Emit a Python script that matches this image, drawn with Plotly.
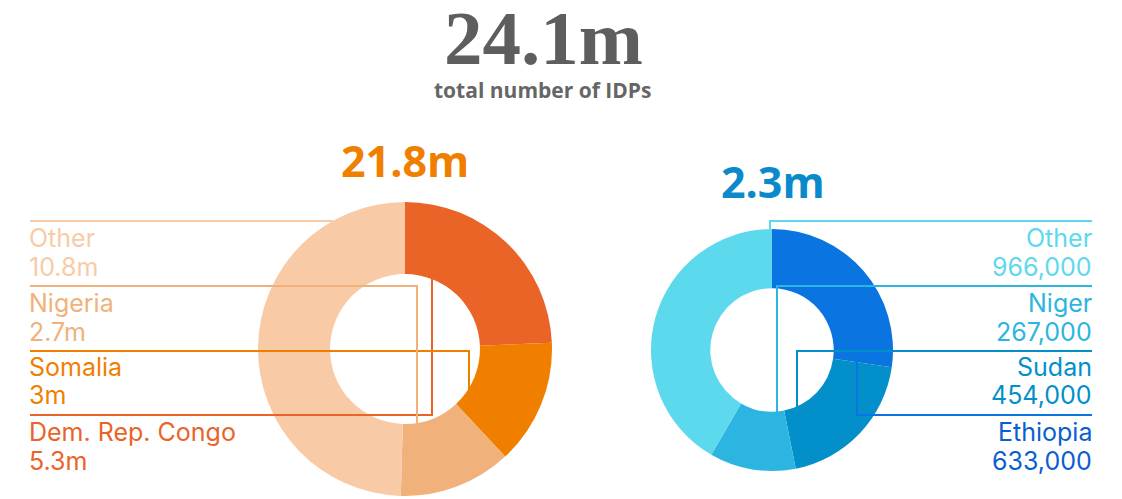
import plotly.graph_objects as go

# ---------------- data ----------------
left_labels = ["Dem. Rep. Congo", "Somalia", "Nigeria", "Other"]
left_values = [5.3, 3.0, 2.7, 10.8]            # millions
right_labels = ["Ethiopia", "Sudan", "Niger", "Other"]
right_values = [633000, 454000, 267000, 966000]

left_colors = ["#EA6428", "#F07F00", "#F0B27A", "#F8CBA6"]
left_text_colors = ["#EA6428", "#F07F00", "#F0B27A", "#F8CBA6"]
right_colors = ["#0A74E0", "#038FCA", "#2DB5E1", "#5DD9EE"]
right_text_colors = ["#0A5ECF", "#038FCA", "#2DB5E1", "#5DD9EE"]

left_total = sum(left_values)
right_total = sum(right_values) / 1e6
grand_total = left_total + right_total

W, H = 1122, 499


def X(px):
    return px / W


def Y(py):
    return 1 - py / H


fig = go.Figure()

# left donut: centre (405,349), r=147
lc, lr = (405, 349), 147
fig.add_trace(go.Pie(
    labels=left_labels, values=left_values, sort=False, direction="clockwise",
    rotation=0, hole=0.51, textinfo="none", hoverinfo="label+value",
    marker=dict(colors=left_colors, line=dict(width=0)), showlegend=False,
    domain=dict(x=[X(lc[0] - lr), X(lc[0] + lr)], y=[Y(lc[1] + lr), Y(lc[1] - lr)]),
))

# right donut: centre (772,350), r=121
rc, rr = (772, 350), 121
fig.add_trace(go.Pie(
    labels=right_labels, values=right_values, sort=False, direction="clockwise",
    rotation=0, hole=0.51, textinfo="none", hoverinfo="label+value",
    marker=dict(colors=right_colors, line=dict(width=0)), showlegend=False,
    domain=dict(x=[X(rc[0] - rr), X(rc[0] + rr)], y=[Y(rc[1] + rr), Y(rc[1] - rr)]),
))

shapes = []


def poly(points, color):
    d = "M " + " L ".join(f"{X(a)},{Y(b)}" for a, b in points)
    shapes.append(dict(type="path", xref="paper", yref="paper", path=d,
                       line=dict(color=color, width=2), layer="above"))


# leader lines (layout geometry)
left_paths = [
    [(30, 415), (432, 415), (432, 278)],   # DRC
    [(30, 351), (469, 351), (469, 400)],   # Somalia
    [(30, 286), (417, 286), (417, 427)],   # Nigeria
    [(30, 221), (333, 221)],               # Other
]
right_paths = [
    [(1092, 415), (857, 415), (857, 362)],  # Ethiopia
    [(1092, 351), (797, 351), (797, 407)],  # Sudan
    [(1092, 286), (777, 286), (777, 412)],  # Niger
    [(1092, 221), (770, 221), (770, 230)],  # Other
]
for p, c in zip(left_paths, left_colors):
    poly(p, c)
for p, c in zip(right_paths, right_colors):
    poly(p, c)

annotations = []
LABEL_FONT = "Inter"
LS = 25


def text(x, baseline, s, color, size, anchor, family=LABEL_FONT, shift=0.39):
    annotations.append(dict(
        x=X(x), y=Y(baseline - shift * size), xref="paper", yref="paper",
        text=s, showarrow=False, xanchor=anchor, yanchor="middle",
        font=dict(family=family, size=size, color=color)))


name_baselines = [442, 377, 313, 248]
value_baselines = [471, 405, 342, 277]

for i, name in enumerate(left_labels):
    text(27, name_baselines[i], name, left_text_colors[i], LS, "left")
    text(27, value_baselines[i], f"{left_values[i]:g}m", left_text_colors[i], LS, "left")

for i, name in enumerate(right_labels):
    text(1094, name_baselines[i], name, right_text_colors[i], LS, "right")
    text(1094, value_baselines[i], f"{right_values[i]:,}", right_text_colors[i], LS, "right")

# headline totals
text(543, 63, f"<b>{grand_total:.1f}m</b>", "#5E5E5E", 77, "center", family="Liberation Serif", shift=0.33)
text(542, 98, "<b>total number of IDPs</b>", "#666666", 21, "center", family="Open Sans")
text(405, 177, f"<b>{left_total:.1f}m</b>", "#F07F00", 43, "center", family="Open Sans")
text(773, 198, f"<b>{right_total:.1f}m</b>", "#0A8ACB", 43, "center", family="Open Sans")

fig.update_layout(
    width=W, height=H, margin=dict(l=0, r=0, t=0, b=0),
    paper_bgcolor="white", plot_bgcolor="white",
    shapes=shapes, annotations=annotations,
)

fig.write_html("out.html", config={"displayModeBar": False},
               post_script="document.body.style.margin='0';document.body.style.overflow='hidden';")
